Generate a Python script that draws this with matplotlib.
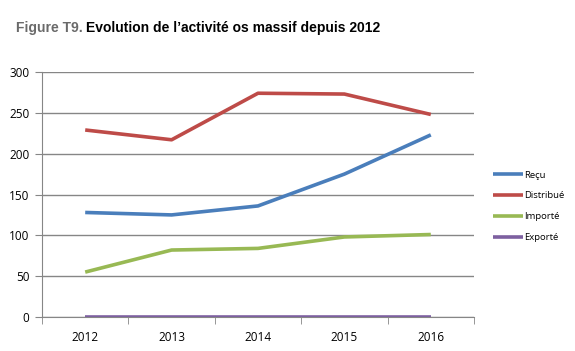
import numpy as np
import matplotlib.pyplot as plt

years = ["2012", "2013", "2014", "2015", "2016"]
recu = [128, 125, 136, 175, 223]
distribue = [229, 217, 274, 273, 248]
importe = [55, 82, 84, 98, 101]
exporte = [0, 0, 0, 0, 0]
series_names = ["Reçu", "Distribué", "Importé", "Exporté"]
colors = ["#4A7EBB", "#BE4B48", "#98B954", "#7D60A0"]

plt.rcParams["font.family"] = ["Open Sans", "DejaVu Sans"]

fig = plt.figure(figsize=(5.75, 3.51), dpi=100)
ax = fig.add_axes([42 / 575, 1 - 317 / 351, 432 / 575, 245 / 351])

x = np.arange(len(years))
lines = []
for vals, name, c in zip([recu, distribue, importe, exporte], series_names, colors):
    ln, = ax.plot(x, vals, color=c, lw=2.6, label=name, solid_capstyle="butt", zorder=3)
    lines.append(ln)

ax.set_xlim(-0.5, 4.5)
ax.set_ylim(0, 300)
ax.set_yticks(range(0, 301, 50))
ax.yaxis.grid(True, color="#868686", lw=1)
ax.set_axisbelow(True)

ax.set_xticks(x)
ax.set_xticklabels(years)
ax.set_xticks(np.arange(-0.5, 5, 1), minor=True)
ax.tick_params(axis="x", which="major", length=0, pad=10, labelsize=8.5)
ax.tick_params(axis="x", which="minor", length=5, color="#868686", direction="out")
ax.tick_params(axis="y", length=5, color="#868686", labelsize=8.5, pad=4)

for s in ["top", "right"]:
    ax.spines[s].set_visible(False)
for s in ["left", "bottom"]:
    ax.spines[s].set_color("#868686")

fig.legend(lines, series_names, loc="upper left", bbox_to_anchor=(484 / 575, 1 - 162 / 351),
           frameon=False, fontsize=6.8, handlelength=3.2, handletextpad=0.2,
           labelspacing=1.25)

fig.text(16 / 575, 1 - 28 / 351, "Figure T9.", color="#6a6a6a", fontsize=10,
         fontweight="bold", family="Liberation Sans", va="center")
fig.text(86 / 575, 1 - 28 / 351, "Evolution de l\u2019activité os massif depuis 2012",
         color="black", fontsize=10, fontweight="bold", family="Liberation Sans", va="center")

fig.savefig("out.png", dpi=100)
